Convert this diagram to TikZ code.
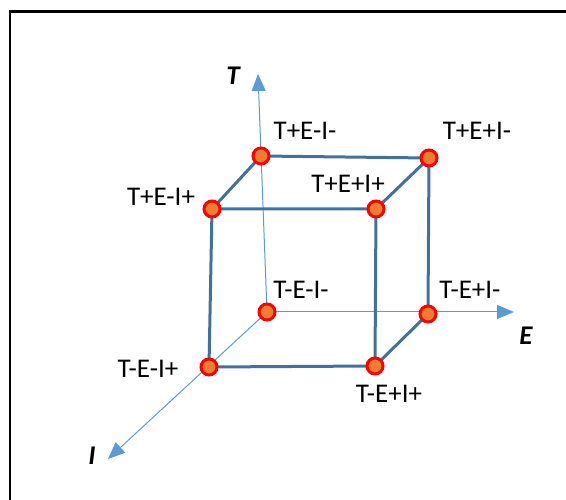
\documentclass[tikz,border=0pt]{standalone}
\usepackage{fontspec}
\setmainfont{Carlito}
\usetikzlibrary{arrows.meta}
\definecolor{edgeblue}{HTML}{41719C}
\definecolor{axisblue}{HTML}{5B9BD5}
\definecolor{dotfill}{HTML}{ED7D31}
\begin{document}
\begin{tikzpicture}[x=1pt,y=-1pt,
  cubeedge/.style={draw=edgeblue,line width=3pt,line join=round},
  axisline/.style={draw=axisblue,line width=1pt,-{Triangle[length=17pt,width=14pt]}},
  vert/.style={circle,draw=red,fill=dotfill,line width=3pt,minimum size=16pt,inner sep=0pt},
  lab/.style={font=\fontsize{27}{32}\selectfont,inner sep=0pt},
  axlab/.style={font=\fontsize{27}{32}\selectfont\bfseries\itshape,inner sep=0pt}]
\useasboundingbox (0,0) rectangle (566,500);
\draw[line width=2.2pt] (566,11.5) -- (10,11.5) -- (10,500);
% vertices
\coordinate (bTL) at (261,156);
\coordinate (bTR) at (429,158);
\coordinate (fTL) at (212,209);
\coordinate (fTR) at (376,209);
\coordinate (bBL) at (267,312);
\coordinate (bBR) at (428,314);
\coordinate (fBL) at (209,367);
\coordinate (fBR) at (375,366);
\coordinate (Tend) at (258,74);
\coordinate (Eend) at (514,312);
\coordinate (Iend) at (108,459);
% axes
\draw[axisline] (bBL) -- (Tend);
\draw[axisline] (bBL) -- (Eend);
\draw[axisline] (bBL) -- (Iend);
% cube
\draw[cubeedge] (fTL) -- (fTR) -- (fBR) -- (fBL) -- cycle;
\draw[cubeedge] (fTL) -- (bTL) -- (bTR) -- (fTR);
\draw[cubeedge] (bTR) -- (bBR) -- (fBR);
% dots
\foreach \v in {bTL,bTR,fTL,fTR,bBL,bBR,fBL,fBR}
  \node[vert] (d\v) at (\v) {};
% labels
\node[lab] (l1) at (305,131) {T+E-I-};
\node[lab] (l2) at (477,131) {T+E+I-};
\node[lab] (l3) at (161,197) {T+E-I+};
\node[lab] (l4) at (348,184) {T+E+I+};
\node[lab] (l5) at (301,290) {T-E-I-};
\node[lab] (l6) at (470,290) {T-E+I-};
\node[lab] (l7) at (148,369) {T-E-I+};
\node[lab] (l8) at (389,394) {T-E+I+};
\node[axlab] (aT) at (233,76) {T};
\node[axlab] (aE) at (526,336) {E};
\node[axlab] (aI) at (92,456) {I};
\end{tikzpicture}
\end{document}
